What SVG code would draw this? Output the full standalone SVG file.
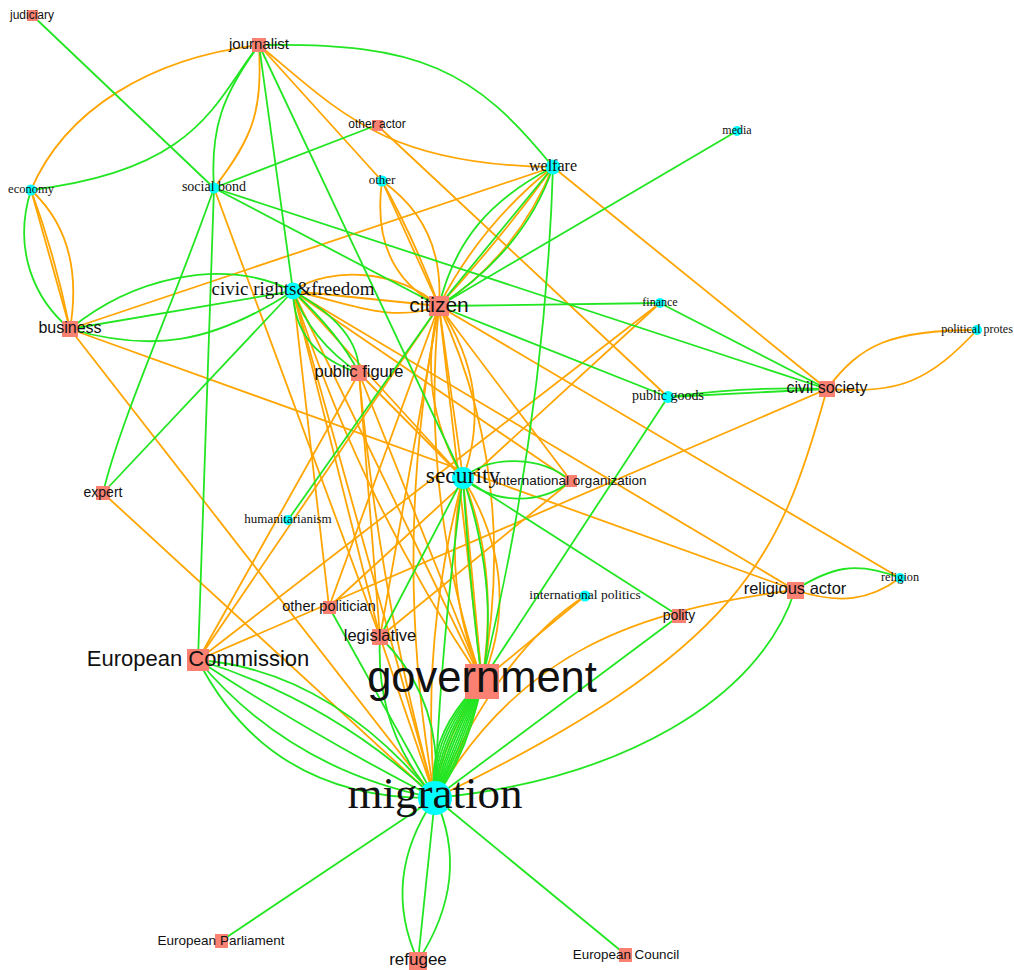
<svg xmlns="http://www.w3.org/2000/svg" width="1014" height="970" viewBox="0 0 1014 970">
<style>
path{fill:none;stroke-width:1.8}
.g{stroke:#22e622}
.o{stroke:#ffa500}
.a{fill:#fa8072}
.t{fill:#00ffff}
.la{font-family:"Liberation Sans",Arial,sans-serif;fill:#111;text-anchor:middle}
.lt{font-family:"Liberation Serif","Times New Roman",serif;fill:#111;text-anchor:middle}
</style>
<rect width="1014" height="970" fill="#fff"/>
<g id="edges">
<path class="o" d="M259,45 C150,58 65,110 31,190"/>
<path class="o" d="M259,45 C262,110 255,135 214,188"/>
<path class="o" d="M259,45 L382,181"/>
<path class="o" d="M259,45 C340,112 385,165 553,167"/>
<path class="o" d="M214,188 L380,637"/>
<path class="o" d="M31,190 L70,329"/>
<path class="o" d="M31,190 Q55,255 70,329"/>
<path class="o" d="M31,190 Q85,240 70,329"/>
<path class="o" d="M70,329 L553,167"/>
<path class="o" d="M70,329 L435,798"/>
<path class="o" d="M70,329 L795,590"/>
<path class="o" d="M103,493 L435,798"/>
<path class="o" d="M198,660 L439,306"/>
<path class="o" d="M198,660 L660,303"/>
<path class="o" d="M660,303 L329,607"/>
<path class="o" d="M827,389 L198,660"/>
<path class="o" d="M377,125 L668,397"/>
<path class="o" d="M382,181 L439,306"/>
<path class="o" d="M382,181 Q370,270 439,306"/>
<path class="o" d="M382,181 Q445,225 439,306"/>
<path class="o" d="M382,181 Q415,240 439,306"/>
<path class="o" d="M553,167 Q500,240 439,306"/>
<path class="o" d="M553,167 Q480,225 439,306"/>
<path class="o" d="M553,167 Q515,258 439,306"/>
<path class="o" d="M553,167 L827,389"/>
<path class="o" d="M827,389 C860,345 890,330 977,330"/>
<path class="o" d="M827,389 C900,395 930,380 977,330"/>
<path class="o" d="M827,389 C780,560 740,650 435,798"/>
<path class="o" d="M795,590 C640,610 520,650 435,798"/>
<path class="o" d="M795,590 C840,605 870,600 900,578"/>
<path class="o" d="M439,306 L900,578"/>
<path class="o" d="M293,291 L795,590"/>
<path class="o" d="M293,291 C330,265 400,270 439,306"/>
<path class="o" d="M293,291 L439,306"/>
<path class="o" d="M293,291 C340,300 390,325 439,306"/>
<path class="o" d="M293,291 L463,478"/>
<path class="o" d="M293,291 L329,607"/>
<path class="o" d="M293,291 L380,637"/>
<path class="o" d="M293,291 L435,798"/>
<path class="o" d="M293,291 L482,681"/>
<path class="o" d="M293,291 Q360,500 482,681"/>
<path class="o" d="M293,291 L571,481"/>
<path class="o" d="M359,373 L463,478"/>
<path class="o" d="M359,373 L482,681"/>
<path class="o" d="M359,373 L380,637"/>
<path class="o" d="M359,373 L198,660"/>
<path class="o" d="M359,373 Q380,600 435,798"/>
<path class="o" d="M439,306 L463,478"/>
<path class="o" d="M439,306 Q495,390 463,478"/>
<path class="o" d="M439,306 Q415,395 463,478"/>
<path class="o" d="M439,306 L482,681"/>
<path class="o" d="M439,306 Q420,500 482,681"/>
<path class="o" d="M439,306 Q520,480 482,681"/>
<path class="o" d="M439,306 Q390,550 435,798"/>
<path class="o" d="M439,306 L380,637"/>
<path class="o" d="M439,306 L329,607"/>
<path class="o" d="M439,306 L571,481"/>
<path class="o" d="M463,478 Q440,580 482,681"/>
<path class="o" d="M463,478 Q500,570 482,681"/>
<path class="o" d="M463,478 Q525,580 482,681"/>
<path class="o" d="M463,478 L482,681"/>
<path class="o" d="M463,478 Q420,640 435,798"/>
<path class="o" d="M585,596 L482,681"/>
<path class="o" d="M585,596 Q500,650 435,798"/>
<path class="o" d="M380,637 L571,481"/>
<path class="o" d="M380,637 L435,798"/>
<path class="o" d="M482,681 Q440,745 435,798"/>
<path class="o" d="M482,681 Q470,745 435,798"/>
<path class="g" d="M32,15 L214,188"/>
<path class="g" d="M259,45 C215,100 200,170 31,190"/>
<path class="g" d="M259,45 C222,95 210,130 214,188"/>
<path class="g" d="M259,45 C420,42 475,70 553,167"/>
<path class="g" d="M259,45 L293,291"/>
<path class="g" d="M259,45 L463,478"/>
<path class="g" d="M214,188 L377,125"/>
<path class="g" d="M214,188 L827,389"/>
<path class="g" d="M214,188 L439,306"/>
<path class="g" d="M214,188 L198,660"/>
<path class="g" d="M214,188 C175,300 120,420 103,493"/>
<path class="g" d="M31,190 C12,250 35,300 70,329"/>
<path class="g" d="M70,329 C130,280 220,255 293,291"/>
<path class="g" d="M70,329 L293,291"/>
<path class="g" d="M70,329 C150,352 210,345 293,291"/>
<path class="g" d="M103,493 L293,291"/>
<path class="g" d="M288,520 L439,306"/>
<path class="g" d="M198,660 Q330,670 435,798"/>
<path class="g" d="M198,660 Q330,700 435,798"/>
<path class="g" d="M198,660 Q312,735 435,798"/>
<path class="g" d="M198,660 Q290,770 435,798"/>
<path class="g" d="M198,660 Q270,800 435,798"/>
<path class="g" d="M221,941 L435,798"/>
<path class="g" d="M626,955 L435,798"/>
<path class="g" d="M418,961 L435,798"/>
<path class="g" d="M418,961 Q380,878 435,798"/>
<path class="g" d="M418,961 Q472,878 435,798"/>
<path class="g" d="M553,167 C490,200 455,240 439,306"/>
<path class="g" d="M553,167 L439,306"/>
<path class="g" d="M553,167 Q525,250 439,306"/>
<path class="g" d="M737,131 L439,306"/>
<path class="g" d="M439,306 L660,303"/>
<path class="g" d="M439,306 L668,397"/>
<path class="g" d="M553,167 Q545,420 482,681"/>
<path class="g" d="M668,397 L827,389"/>
<path class="g" d="M668,397 Q750,386 827,389"/>
<path class="g" d="M660,303 L827,389"/>
<path class="g" d="M795,590 C760,700 620,780 435,798"/>
<path class="g" d="M795,590 C830,568 855,560 900,578"/>
<path class="g" d="M463,478 L679,616"/>
<path class="g" d="M679,616 L435,798"/>
<path class="g" d="M293,291 Q294,352 359,373"/>
<path class="g" d="M293,291 Q310,340 359,373"/>
<path class="g" d="M293,291 Q340,335 359,373"/>
<path class="g" d="M293,291 Q360,328 359,373"/>
<path class="g" d="M463,478 C490,455 540,455 571,481"/>
<path class="g" d="M463,478 C495,505 540,505 571,481"/>
<path class="g" d="M463,478 L380,637"/>
<path class="g" d="M463,478 Q470,590 482,681"/>
<path class="g" d="M463,478 Q500,590 482,681"/>
<path class="g" d="M463,478 Q440,650 435,798"/>
<path class="g" d="M668,397 L482,681"/>
<path class="g" d="M380,637 Q375,730 435,798"/>
<path class="g" d="M380,637 Q445,700 435,798"/>
<path class="g" d="M329,607 L435,798"/>
<path class="g" stroke-width="1.1" d="M482,681 Q425,735 435,798"/>
<path class="g" stroke-width="1.1" d="M482,681 Q429,737 435,798"/>
<path class="g" stroke-width="1.1" d="M482,681 Q433,739 435,798"/>
<path class="g" stroke-width="1.1" d="M482,681 Q437,741 435,798"/>
<path class="g" stroke-width="1.1" d="M482,681 Q441,742 435,798"/>
<path class="g" stroke-width="1.1" d="M482,681 Q445,744 435,798"/>
<path class="g" stroke-width="1.1" d="M482,681 Q449,745 435,798"/>
<path class="g" stroke-width="1.1" d="M482,681 Q453,747 435,798"/>
<path class="g" stroke-width="1.1" d="M482,681 Q457,748 435,798"/>
<path class="g" stroke-width="1.1" d="M482,681 Q461,749 435,798"/>
<path class="g" stroke-width="1.1" d="M482,681 Q465,751 435,798"/>
<path class="g" stroke-width="1.1" d="M482,681 Q469,752 435,798"/>
</g>
<g id="n-judiciary"><rect class="a" x="27" y="10" width="11" height="11"/><text class="la" x="32" y="19" font-size="12">judiciary</text></g>
<g id="n-journalist"><rect class="a" x="252" y="38" width="14" height="14"/><text class="la" x="259" y="49" font-size="15">journalist</text></g>
<g id="n-other-actor"><rect class="a" x="372" y="120" width="11" height="11"/><text class="la" x="377" y="128" font-size="12">other actor</text></g>
<g id="n-economy"><circle class="t" cx="31" cy="190" r="5.5"/><text class="lt" x="31" y="193" font-size="12.5">economy</text></g>
<g id="n-social-bond"><circle class="t" cx="214" cy="188" r="5.5"/><text class="lt" x="214" y="191" font-size="14">social bond</text></g>
<g id="n-other"><circle class="t" cx="382" cy="181" r="5.5"/><text class="lt" x="382" y="184" font-size="13">other</text></g>
<g id="n-welfare"><circle class="t" cx="553" cy="167" r="7.5"/><text class="lt" x="553" y="171" font-size="16">welfare</text></g>
<g id="n-media"><circle class="t" cx="737" cy="131" r="5"/><text class="lt" x="737" y="134" font-size="12">media</text></g>
<g id="n-civic-rights"><circle class="t" cx="293" cy="291" r="8.5"/><text class="lt" x="293" y="295.4" font-size="19">civic rights&amp;freedom</text></g>
<g id="n-citizen"><rect class="a" x="429" y="296" width="20" height="20"/><text class="la" x="439" y="311.5" font-size="21">citizen</text></g>
<g id="n-business"><rect class="a" x="62" y="321" width="16" height="16"/><text class="la" x="70" y="333" font-size="16">business</text></g>
<g id="n-finance"><circle class="t" cx="660" cy="303" r="5"/><text class="lt" x="660" y="306" font-size="12">finance</text></g>
<g id="n-political-protes"><circle class="t" cx="977" cy="330" r="5"/><text class="lt" x="977" y="333" font-size="12">political protes</text></g>
<g id="n-public-figure"><rect class="a" x="351" y="365" width="16" height="16"/><text class="la" x="359" y="377.3" font-size="16.5">public figure</text></g>
<g id="n-civil-society"><rect class="a" x="819" y="381" width="16" height="16"/><text class="la" x="827" y="393" font-size="16">civil society</text></g>
<g id="n-public-goods"><circle class="t" cx="668" cy="397" r="6"/><text class="lt" x="668" y="400" font-size="14">public goods</text></g>
<g id="n-security"><circle class="t" cx="463" cy="478" r="11"/><text class="lt" x="463" y="483.4" font-size="23.5">security</text></g>
<g id="n-international-organization"><rect class="a" x="565" y="475" width="12" height="12"/><text class="la" x="571" y="484.5" font-size="13.5">international organization</text></g>
<g id="n-expert"><rect class="a" x="96" y="486" width="14" height="14"/><text class="la" x="103" y="496.6" font-size="14">expert</text></g>
<g id="n-humanitarianism"><circle class="t" cx="288" cy="520" r="5"/><text class="lt" x="288" y="523" font-size="13">humanitarianism</text></g>
<g id="n-international-politics"><circle class="t" cx="585" cy="596" r="5.5"/><text class="lt" x="585" y="599" font-size="13.5">international politics</text></g>
<g id="n-religion"><circle class="t" cx="900" cy="578" r="5"/><text class="lt" x="900" y="581" font-size="12.3">religion</text></g>
<g id="n-religious-actor"><rect class="a" x="787" y="582" width="17" height="17"/><text class="la" x="795" y="594.3" font-size="16.5">religious actor</text></g>
<g id="n-polity"><rect class="a" x="672" y="609" width="14" height="14"/><text class="la" x="679" y="619.6" font-size="14">polity</text></g>
<g id="n-other-politician"><rect class="a" x="323" y="601" width="13" height="13"/><text class="la" x="329" y="610.8" font-size="14.5">other politician</text></g>
<g id="n-legislative"><rect class="a" x="372" y="629" width="16" height="16"/><text class="la" x="380" y="641.3" font-size="16.5">legislative</text></g>
<g id="n-european-commission"><rect class="a" x="187" y="649" width="22" height="22"/><text class="la" x="198" y="665.7" font-size="22">European Commission</text></g>
<g id="n-government"><rect class="a" x="465" y="664" width="34" height="35"/><text class="la" x="482" y="692.3" font-size="43.5">government</text></g>
<g id="n-migration"><circle class="t" cx="435" cy="798" r="17"/><text class="lt" x="435" y="808.4" font-size="45">migration</text></g>
<g id="n-european-parliament"><rect class="a" x="215" y="934" width="13" height="14"/><text class="la" x="221" y="944.5" font-size="13.5">European Parliament</text></g>
<g id="n-refugee"><rect class="a" x="409" y="952" width="18" height="18"/><text class="la" x="418" y="965.4" font-size="17">refugee</text></g>
<g id="n-european-council"><rect class="a" x="619" y="948" width="13" height="14"/><text class="la" x="626" y="958.5" font-size="13.4">European Council</text></g>
</svg>
